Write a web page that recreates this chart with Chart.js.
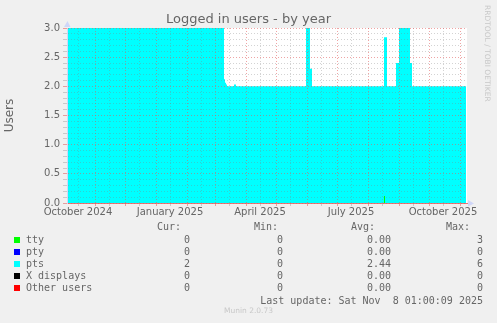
<!DOCTYPE html>
<html>
<head>
<meta charset="utf-8">
<script src="https://cdn.jsdelivr.net/npm/chart.js@4"></script>
<style>
body { margin: 0; background: #f0f0f0; }
#wrap { position: relative; width: 497px; height: 323px; overflow: hidden; font-family: "DejaVu Sans"; color: #666; }
canvas { position: absolute; left: 0; top: 0; }
.t { position: absolute; white-space: pre; line-height: 12px; }
.mono { font-family: "DejaVu Sans Mono"; font-size: 10px; }
.sq { position: absolute; width: 6px; height: 6px; }
</style>
</head>
<body>
<div id="wrap">
  <canvas id="usersChart" width="497" height="323"></canvas>
  <div class="t" style="left:0;width:497px;top:11px;line-height:16px;text-align:center;font-size:13px;">Logged in users - by year</div>
  <div class="t" style="left:482px;top:5px;writing-mode:vertical-rl;font-size:7.5px;line-height:10px;color:#c8c8c8;">RRDTOOL / TOBI OETIKER</div>
  <div id="legend"></div>
  <div class="t" style="left:0;width:497px;top:305px;text-align:center;font-size:7.5px;color:#c8c8c8;">Munin 2.0.73</div>
</div>
<script>
// legend table
const seriesNames = ['tty', 'pty', 'pts', 'X displays', 'Other users'];
const seriesColors = ['#00ff00', '#0000ff', '#00ffff', '#000000', '#ff0000'];
const curValues = ['0', '0', '2', '0', '0'];
const minValues = ['0', '0', '0', '0', '0'];
const avgValues = ['0.00', '0.00', '2.44', '0.00', '0.00'];
const maxValues = ['3', '0', '6', '0', '0'];
const lastUpdate = 'Last update: Sat Nov  8 01:00:09 2025';

// x values are days counted from 1 October 2024, each value holds until the next point
const ptsDays   = [3, 160, 161, 162, 163, 170, 172, 242, 246, 248, 320, 323, 332, 335, 346, 348, 402];
const ptsValues = [3, 2.12, 2.06, 2.03, 2, 2.03, 2, 3, 2.3, 2, 2.84, 2, 2.4, 3, 2.4, 2, 2];
const ttyDays   = [3, 320, 321, 402];
const ttyValues = [0, 0.12, 0, 0];

// month boundaries (days from 1 Oct 2024) and the quarter labels
const monthStarts = [0, 31, 61, 92, 123, 151, 182, 212, 243, 273, 304, 335, 365, 396];
const xLabels = ['October 2024', 'January 2025', 'April 2025', 'July 2025', 'October 2025'];
const xLabelMonth = [0, 3, 6, 9, 12];
const yLabels = [0, 0.5, 1, 1.5, 2, 2.5, 3];
const xMin = 3, xMax = 403;

const majorGrid = 'rgba(225,90,90,0.55)';
const minorGrid = 'rgba(130,130,130,0.35)';
const axisColor = '#cfd6f8';

// legend rows
let legendHtml = '';
const colRight = { cur: 190, min: 283, avg: 391, max: 483 };
legendHtml += `<div class="t mono" style="left:157px;top:221px">Cur:</div>`;
legendHtml += `<div class="t mono" style="left:254px;top:221px">Min:</div>`;
legendHtml += `<div class="t mono" style="left:351px;top:221px">Avg:</div>`;
legendHtml += `<div class="t mono" style="left:446px;top:221px">Max:</div>`;
seriesNames.forEach((name, i) => {
    const cy = 240 + i * 12;
    legendHtml += `<div class="sq" style="left:14px;top:${cy - 3}px;background:${seriesColors[i]}"></div>`;
    legendHtml += `<div class="t mono" style="left:26px;top:${cy - 6}px">${name}</div>`;
    legendHtml += `<div class="t mono" style="right:${497 - colRight.cur}px;top:${cy - 6}px">${curValues[i]}</div>`;
    legendHtml += `<div class="t mono" style="right:${497 - colRight.min}px;top:${cy - 6}px">${minValues[i]}</div>`;
    legendHtml += `<div class="t mono" style="right:${497 - colRight.avg}px;top:${cy - 6}px">${avgValues[i]}</div>`;
    legendHtml += `<div class="t mono" style="right:${497 - colRight.max}px;top:${cy - 6}px">${maxValues[i]}</div>`;
});
legendHtml += `<div class="t mono" style="right:${497 - colRight.max}px;top:295px">${lastUpdate}</div>`;
document.getElementById('legend').innerHTML = legendHtml;

const labelAt = {};
xLabelMonth.forEach((m, i) => { labelAt[monthStarts[m] + 14] = xLabels[i]; });

const canvasBg = {
    id: 'canvasBg',
    beforeDraw(chart) {
        const { ctx, chartArea: a } = chart;
        ctx.save();
        ctx.fillStyle = '#ffffff';
        ctx.fillRect(a.left, a.top, a.right - a.left, a.bottom - a.top);
        ctx.restore();
    },
    afterDraw(chart) {
        const { ctx, chartArea: a } = chart;
        ctx.save();
        ctx.fillStyle = axisColor;
        ctx.beginPath();
        ctx.moveTo(a.left - 3, a.top - 1);
        ctx.lineTo(a.left + 3.5, a.top - 1);
        ctx.lineTo(a.left + 0.5, a.top - 7);
        ctx.closePath();
        ctx.fill();
        ctx.beginPath();
        ctx.moveTo(a.right + 1, a.bottom - 3);
        ctx.lineTo(a.right + 1, a.bottom + 3.5);
        ctx.lineTo(a.right + 7, a.bottom + 0.5);
        ctx.closePath();
        ctx.fill();
        ctx.restore();
    }
};

const ctx = document.getElementById('usersChart').getContext('2d');
new Chart(ctx, {
    type: 'line',
    data: {
        datasets: [{
            label: 'pts',
            data: ptsDays.map((d, i) => ({ x: d, y: ptsValues[i] })),
            stepped: 'before',
            fill: 'origin',
            backgroundColor: '#00ffff',
            borderWidth: 0,
            pointRadius: 0,
            order: 2
        }, {
            label: 'tty',
            data: ttyDays.map((d, i) => ({ x: d, y: ttyValues[i] })),
            stepped: 'before',
            fill: 'origin',
            backgroundColor: '#00ff00',
            borderWidth: 0,
            pointRadius: 0,
            order: 1
        }]
    },
    options: {
        responsive: false,
        animation: false,
        layout: { padding: { left: 0, right: 30, top: 28, bottom: 0 } },
        plugins: {
            legend: { display: false },
            tooltip: { enabled: false }
        },
        scales: {
            x: {
                type: 'linear',
                min: xMin,
                max: xMax,
                afterBuildTicks: (scale) => {
                    const t = [];
                    monthStarts.forEach(d => { t.push({ value: d }); t.push({ value: d + 14 }); });
                    scale.ticks = t.filter(k => k.value >= xMin && k.value <= xMax).sort((a, b) => a.value - b.value);
                },
                afterFit: (scale) => { scale.height = 120; },
                ticks: {
                    autoSkip: false,
                    maxRotation: 0,
                    padding: 0,
                    color: '#666',
                    font: { family: 'DejaVu Sans', size: 10 },
                    callback: (value) => labelAt[value] || ''
                },
                grid: {
                    z: 1,
                    color: (c) => monthStarts.includes(c.tick && c.tick.value) ? majorGrid : minorGrid,
                    tickLength: 3
                },
                border: { display: true, z: 1, color: 'rgba(225,90,90,0.8)', dash: [1, 2] }
            },
            y: {
                min: 0,
                max: 3,
                afterBuildTicks: (scale) => {
                    const t = [];
                    for (let i = 0; i <= 30; i++) t.push({ value: i / 10 });
                    scale.ticks = t;
                },
                afterFit: (scale) => { scale.width = 67; },
                ticks: {
                    autoSkip: false,
                    padding: 3,
                    color: '#666',
                    font: { family: 'DejaVu Sans', size: 10 },
                    callback: (value) => {
                        const hit = yLabels.find(v => Math.abs(v - value) < 1e-6);
                        return hit === undefined ? '' : hit.toFixed(1);
                    }
                },
                grid: {
                    z: 1,
                    color: (c) => {
                        const v = c.tick ? c.tick.value : -1;
                        return yLabels.some(l => Math.abs(l - v) < 1e-6) ? majorGrid : minorGrid;
                    },
                    tickLength: 4
                },
                border: { display: true, z: 1, color: axisColor, dash: [1, 2] },
                title: {
                    display: true,
                    text: 'Users',
                    color: '#666',
                    font: { family: 'DejaVu Sans', size: 12 },
                    padding: { top: 3, bottom: 0 }
                }
            }
        }
    },
    plugins: [canvasBg]
});
</script>
</body>
</html>
